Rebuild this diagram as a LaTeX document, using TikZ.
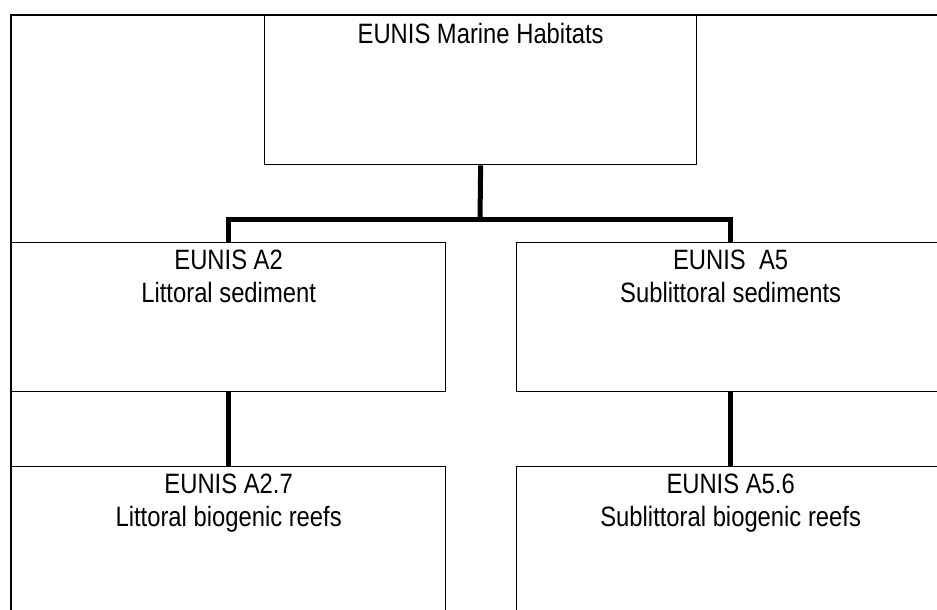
\documentclass[tikz,border=0pt]{standalone}
\usepackage{fontspec}
\setmainfont{Liberation Sans}[FakeStretch=0.85]
\begin{document}
\begin{tikzpicture}[x=1pt,y=-1pt,
  box/.style={draw=black,line width=1.3pt,rectangle,inner sep=0pt,anchor=north west},
  boxtext/.style={anchor=north,inner sep=0pt,align=center,font=\fontsize{28}{33}\selectfont},
  conn/.style={draw=black,line width=5pt},
  frame/.style={draw=black,line width=1.6pt}]
  \useasboundingbox (0,0) rectangle (937,610);
  \clip (0,0) rectangle (937,610);

  % page frame (top and left rule)
  \coordinate (fa) at (11,720);
  \coordinate (fb) at (11,15);
  \coordinate (fc) at (960,15);
  \draw[frame] (fa) -- (fb) -- (fc);

  % boxes
  \node[box,minimum width=432pt,minimum height=149pt] (top) at (264,15) {};
  \node[box,minimum width=434pt,minimum height=149pt] (ml) at (11,242) {};
  \node[box,minimum width=428pt,minimum height=149pt] (mr) at (516,242) {};
  \node[box,minimum width=434pt,minimum height=250pt] (bl) at (11,466) {};
  \node[box,minimum width=428pt,minimum height=250pt] (br) at (516,466) {};

  % texts
  \node[boxtext] (ttop) at ([yshift=-8pt]top.north) {EUNIS Marine Habitats};
  \node[boxtext] (tml) at ([yshift=-8pt]ml.north) {EUNIS A2\\Littoral sediment};
  \node[boxtext] (tmr) at ([yshift=-8pt]mr.north) {EUNIS\ \ A5\\Sublittoral sediments};
  \node[boxtext] (tbl) at ([yshift=-8pt]bl.north) {EUNIS A2.7\\Littoral biogenic reefs};
  \node[boxtext] (tbr) at ([yshift=-8pt]br.north) {EUNIS A5.6\\Sublittoral biogenic reefs};

  % connectors
  \coordinate (j) at (480,219);
  \draw[conn] (top.south) -- (j);
  \draw[conn] (ml.north) |- (j) -| (mr.north);
  \draw[conn] (ml.south) -- (bl.north);
  \draw[conn] (mr.south) -- (br.north);
\end{tikzpicture}
\end{document}
